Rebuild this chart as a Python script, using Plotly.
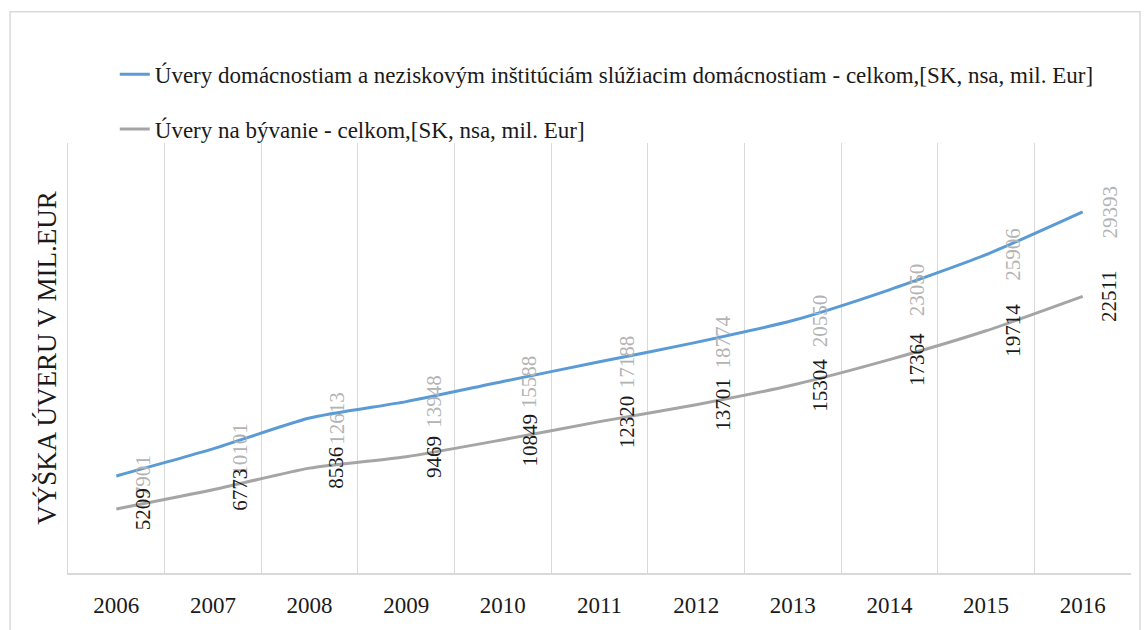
import plotly.graph_objects as go

years = ["2006", "2007", "2008", "2009", "2010", "2011", "2012", "2013", "2014", "2015", "2016"]
uvery_domacnosti = [7901, 10101, 12613, 13948, 15588, 17188, 18774, 20550, 23050, 25906, 29393]
uvery_byvanie = [5209, 6773, 8536, 9469, 10849, 12320, 13701, 15304, 17364, 19714, 22511]

name1 = "Úvery domácnostiam a neziskovým inštitúciám slúžiacim domácnostiam - celkom,[SK, nsa, mil. Eur]"
name2 = "Úvery na bývanie - celkom,[SK, nsa, mil. Eur]"
ytitle = "VÝŠKA ÚVERU V MIL.EUR"

FONT = "Liberation Serif"
BLUE = "#5b9bd5"
GRAY = "#a5a5a5"

fig = go.Figure()
fig.add_trace(go.Scatter(x=years, y=uvery_domacnosti, mode="lines", name=name1,
                         line=dict(color=BLUE, width=3, shape="spline", smoothing=0.6),
                         legendgroup="a"))
fig.add_trace(go.Scatter(x=years, y=uvery_byvanie, mode="lines", name=name2,
                         line=dict(color=GRAY, width=3, shape="spline", smoothing=0.6),
                         legendgroup="b"))

# category axis: annotations positioned by category index
for i, v in enumerate(uvery_domacnosti):
    fig.add_annotation(x=i, y=v, xref="x", yref="y", text=str(v), showarrow=False,
                       textangle=-90, xshift=27, font=dict(family=FONT, size=21, color="#b3b3b3"))
for i, v in enumerate(uvery_byvanie):
    fig.add_annotation(x=i, y=v, xref="x", yref="y", text=str(v), showarrow=False,
                       textangle=-90, xshift=27, font=dict(family=FONT, size=21, color="#1a1a1a"))

fig.update_layout(
    width=1146, height=630,
    margin=dict(l=68, r=15, t=143, b=53),
    paper_bgcolor="white", plot_bgcolor="white",
    font=dict(family=FONT, color="#262626"),
    showlegend=True,
    legend=dict(x=0.044, xanchor="left", y=1.21, yanchor="top",
                font=dict(family=FONT, size=23, color="#1a1a1a"),
                tracegroupgap=22, bgcolor="rgba(0,0,0,0)"),
    shapes=[dict(type="rect", xref="paper", yref="paper", x0=-0.0545, x1=1.0085, y0=-0.2, y1=1.305,
                 line=dict(color="#d9d9d9", width=1.5), layer="below")],
)
fig.update_xaxes(type="category", range=[-0.5, 10.5], tickson="boundaries",
                 showgrid=True, gridcolor="#d9d9d9", gridwidth=1,
                 showline=True, linecolor="#d9d9d9", linewidth=2,
                 ticks="", tickfont=dict(family=FONT, size=23, color="#1a1a1a"),
                 ticklabelstandoff=10, zeroline=False)
fig.update_yaxes(range=[0, 35000], showticklabels=False, showgrid=False, zeroline=False,
                 showline=True, linecolor="#d9d9d9", linewidth=1,
                 title=dict(text=ytitle, font=dict(family=FONT, size=27, color="#1a1a1a"), standoff=2))

fig.write_html("out.html")
